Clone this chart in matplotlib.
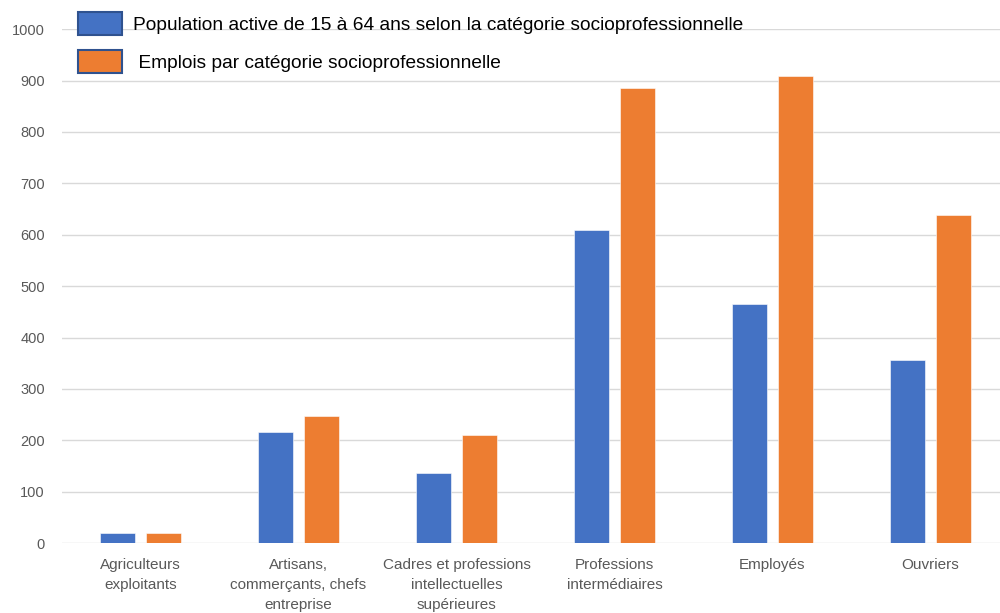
import matplotlib.pyplot as plt
import numpy as np
from matplotlib.patches import Patch

plt.rcParams['font.family'] = ['Liberation Sans Narrow', 'Liberation Sans', 'DejaVu Sans']

# Données par catégorie socioprofessionnelle
categories = [
    'Agriculteurs\nexploitants',
    'Artisans,\ncommerçants, chefs\nentreprise',
    'Cadres et professions\nintellectuelles\nsupérieures',
    'Professions\nintermédiaires',
    'Employés',
    'Ouvriers',
]
population_active = [20, 216, 136, 609, 466, 356]
emplois = [20, 248, 211, 885, 909, 639]

label_pop = 'Population active de 15 à 64 ans selon la catégorie socioprofessionnelle'
label_emp = ' Emplois par catégorie socioprofessionnelle'

blue = '#4472C4'
orange = '#ED7D31'

fig = plt.figure(figsize=(10, 6.13), dpi=100)
ax = fig.add_axes([0.0615, 0.114, 0.9385, 0.8385])

x = np.arange(len(categories))
w = 0.222
off = 0.144
ax.bar(x - off, population_active, w, color=blue, edgecolor='white', linewidth=0.4, zorder=3)
ax.bar(x + off, emplois, w, color=orange, edgecolor='white', linewidth=0.4, zorder=3)

ax.set_ylim(0, 1000)
ax.set_xlim(-0.5, -0.5 + 938.5 / 158)
ax.set_yticks(np.arange(0, 1001, 100))
ax.set_xticks(x)
ax.set_xticklabels(categories, fontsize=11, color='#595959', linespacing=1.55)
ax.tick_params(axis='y', labelsize=10.5, labelcolor='#595959', length=0, pad=12)
ax.tick_params(axis='x', length=0, pad=11)

ax.grid(axis='y', color='#D9D9D9', linewidth=1.0, zorder=0)
for s in ax.spines.values():
    s.set_visible(False)

# légende sans cadre en haut à gauche
handles = [
    Patch(facecolor=blue, edgecolor='#2F528F', linewidth=1.5, label=label_pop),
    Patch(facecolor=orange, edgecolor='#2F528F', linewidth=1.5, label=label_emp),
]
fig.legend(handles=handles, loc='upper left', bbox_to_anchor=(0.078, 1 - 12 / 613),
           frameon=False, fontsize=13.8, borderpad=0, borderaxespad=0,
           handlelength=2.3, handleheight=1.5, handletextpad=0.55, labelspacing=0.75)

fig.savefig('out.png', dpi=100)
